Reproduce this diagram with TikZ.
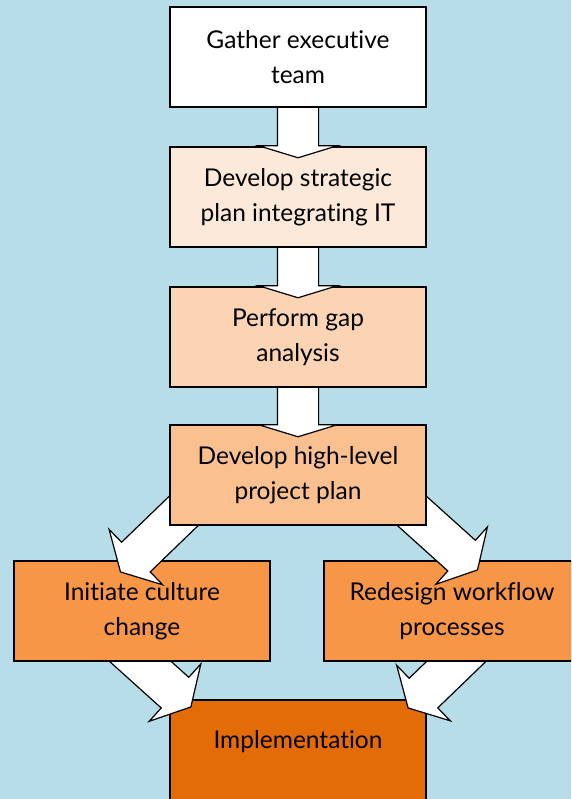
\documentclass[tikz,border=0pt]{standalone}
\usepackage{fontspec}
\setmainfont{Lato}[Ligatures=NoCommon]
\usetikzlibrary{shapes.arrows}
\definecolor{skyback}{HTML}{B7DDE8}
\definecolor{peachA}{HTML}{FDE9D9}
\definecolor{peachB}{HTML}{FBD4B4}
\definecolor{peachC}{HTML}{FAC090}
\definecolor{peachD}{HTML}{F79646}
\definecolor{peachE}{HTML}{E36C09}
\tikzset{
  stepbox/.style={draw=black, line width=1.2pt, minimum width=256pt, minimum height=100pt,
    inner sep=0pt, align=center, font=\fontsize{24.5}{35}\selectfont},
  bigarrow/.style={single arrow, draw=black, fill=white, line width=1.2pt, inner xsep=0pt,
    inner ysep=20pt, minimum width=0pt, single arrow head indent=0pt, anchor=tip},
  downarrow/.style={bigarrow, single arrow head extend=19pt, single arrow tip angle=146,
    minimum height=60pt, rotate=-90},
  diagarrow/.style={bigarrow, single arrow head extend=18pt, single arrow tip angle=122,
    minimum height=100pt}
}
\begin{document}
\begin{tikzpicture}[x=1pt,y=1pt]
  \useasboundingbox (0,0) rectangle (571,-799);
  \clip (0,0) rectangle (571,-799);
  \fill[skyback] (0,0) rectangle (571,-799);

  % drawn from the bottom up, so every head lies over its target box
  \node[stepbox, fill=peachE, text depth=21pt] (impl) at (298,-750) {Implementation};
  \node[diagarrow, rotate=-42] (a6) at ([shift={(22,-8)}]impl.north west) {};
  \node[diagarrow, rotate=224] (a7) at ([shift={(-19,-9)}]impl.north east) {};

  \node[stepbox, fill=peachD] (culture) at (142,-611) {Initiate culture\\change};
  \node[stepbox, fill=peachD] (workflow) at (452,-611) {Redesign workflow\\processes};
  \node[diagarrow, rotate=224] (a4) at ([shift={(-22,-12)}]culture.north) {};
  \node[diagarrow, rotate=-42] (a5) at ([shift={(26,-10)}]workflow.north) {};

  \node[stepbox, fill=peachC] (plan) at (298,-475) {Develop high-level\\project plan};
  \node[downarrow] (a3) at ([yshift=-13]plan.north) {};
  \node[stepbox, fill=peachB] (gap) at (298,-337) {Perform gap\\analysis};
  \node[downarrow] (a2) at ([yshift=-12]gap.north) {};
  \node[stepbox, fill=peachA] (strat) at (298,-197) {Develop strategic\\plan integrating IT};
  \node[downarrow] (a1) at ([yshift=-12]strat.north) {};
  \node[stepbox, fill=white] (team) at (298,-57) {Gather executive\\team};
\end{tikzpicture}
\end{document}
